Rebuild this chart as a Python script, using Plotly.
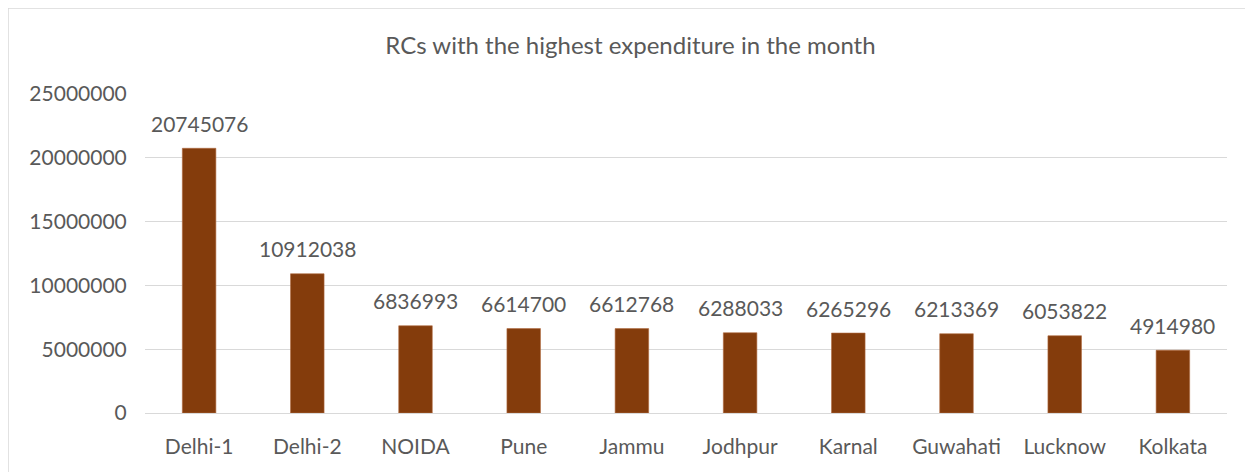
import plotly.graph_objects as go

categories = ["Delhi-1", "Delhi-2", "NOIDA", "Pune", "Jammu", "Jodhpur", "Karnal", "Guwahati", "Lucknow", "Kolkata"]
expenditure = [20745076, 10912038, 6836993, 6614700, 6612768, 6288033, 6265296, 6213369, 6053822, 4914980]
y_ticks = [0, 5000000, 10000000, 15000000, 20000000, 25000000]

# page body has an 8px margin, so the figure is drawn 8px in from the top-left
OFF = 8
W, H = 1253 - OFF, 472 - OFF
L, T = 145 - OFF, 94 - OFF
pw, ph = 1082, 319
R, B = W - L - pw, H - T - ph

font_family = "Lato, 'Open Sans', sans-serif"
grey = "#595959"

fig = go.Figure(go.Bar(
    x=categories,
    y=expenditure,
    marker=dict(color="#843C0C", line=dict(width=0.6, color="#B06A40")),
    cliponaxis=False,
))

annotations = [
    dict(x=c, y=v, xref="x", yref="y", text=str(v), showarrow=False,
         yanchor="middle", xanchor="center", yshift=25,
         font=dict(size=21, color=grey, family=font_family))
    for c, v in zip(categories, expenditure)
]

fig.update_layout(
    width=W, height=H,
    margin=dict(l=L, r=R, t=T, b=B, pad=0),
    paper_bgcolor="white",
    plot_bgcolor="white",
    bargap=0.69,
    showlegend=False,
    annotations=annotations,
    title=dict(
        text="RCs with the highest expenditure in the month",
        x=0.5, xanchor="center", y=1 - (46 - OFF) / H, yanchor="middle",
        font=dict(size=24, color=grey, family=font_family),
    ),
    xaxis=dict(
        showgrid=False, showline=False, zeroline=False,
        tickfont=dict(size=21, color=grey, family=font_family),
        ticks="outside", ticklen=15, tickcolor="rgba(0,0,0,0)",
    ),
    yaxis=dict(
        range=[0, 25000000],
        tickvals=y_ticks,
        ticktext=[str(v) for v in y_ticks],
        showgrid=True, gridcolor="#D9D9D9", gridwidth=1.3,
        zeroline=True, zerolinecolor="#D9D9D9", zerolinewidth=1.3,
        showline=False,
        tickfont=dict(size=21, color=grey, family=font_family),
        ticks="outside", ticklen=13, tickcolor="rgba(0,0,0,0)",
    ),
    shapes=[dict(
        type="rect", xref="paper", yref="paper",
        x0=(8 - 145) / pw, x1=(1263 - 145) / pw,
        y0=(413 - 482) / ph, y1=(413 - 8) / ph,
        line=dict(color="#D9D9D9", width=1.5),
        fillcolor="rgba(0,0,0,0)", layer="below",
    )],
)

fig.write_html("out.html")
